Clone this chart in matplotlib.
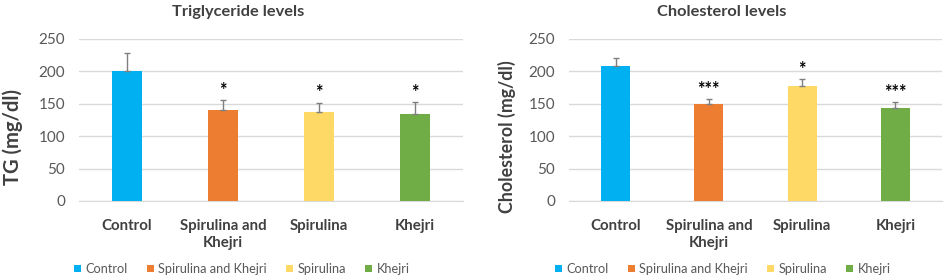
import matplotlib
matplotlib.use("Agg")
import matplotlib.pyplot as plt
from matplotlib.patches import Patch

plt.rcParams['font.family'] = ['Lato', 'DejaVu Sans']

categories = ["Control", "Spirulina and\nKhejri", "Spirulina", "Khejri"]
legend_labels = ["Control", "Spirulina and Khejri", "Spirulina", "Khejri"]
colors = ["#00B0F0", "#ED7D31", "#FFD966", "#70AD47"]

tg_mean = [200, 141, 137, 135]
tg_err = [28, 15, 15, 18]
tg_stars = ["", "*", "*", "*"]

chol_mean = [208, 150, 178, 143]
chol_err = [12, 7, 10, 10]
chol_stars = ["", "***", "*", "***"]

yticks = [0, 50, 100, 150, 200, 250]

W, H = 945, 279
fig = plt.figure(figsize=(W / 100, H / 100), dpi=100)

def make(ax_rect, means, errs, stars, title, ylabel, ylabel_size, ylabel_x,
         title_x, legend_x):
    ax = fig.add_axes(ax_rect)
    x = list(range(len(categories)))
    ax.bar(x, means, width=0.31, color=colors, zorder=3)
    ax.errorbar(x, means, yerr=[[0] * len(errs), errs], fmt='none',
                ecolor='#7F7F7F', elinewidth=1.0, capsize=2.5, capthick=1.0, zorder=4)
    for xi, m, e, s in zip(x, means, errs, stars):
        if s:
            ax.text(xi, m + e + 2, s, ha='center', va='bottom', fontsize=13,
                    fontweight='bold', color='#000000')
    ax.set_xlim(-0.5, len(categories) - 0.5)
    ax.set_ylim(0, 250)
    ax.set_yticks(yticks)
    ax.set_xticks(x)
    ax.set_xticklabels(categories, fontsize=10.8, fontweight='bold', color='#404040',
                       linespacing=1.3)
    ax.tick_params(axis='x', length=0, pad=13)
    ax.tick_params(axis='y', length=0, pad=10, labelsize=11, labelcolor='#595959')
    ax.grid(axis='y', color='#D9D9D9', linewidth=1.0, zorder=0)
    for sp in ['top', 'right', 'left']:
        ax.spines[sp].set_visible(False)
    ax.spines['bottom'].set_color('#D9D9D9')
    ax.set_ylabel(ylabel, fontsize=ylabel_size, fontweight='bold', color='#404040')
    ax.yaxis.set_label_coords(ylabel_x / W, 1 - 137 / H, transform=fig.transFigure)
    fig.text(title_x, 1 - 12 / H, title, ha='center', va='center', fontsize=11.8,
             fontweight='bold', color='#404040')
    handles = [Patch(facecolor=c, edgecolor='none') for c in colors]
    fig.legend(handles, legend_labels, loc='center', bbox_to_anchor=(legend_x, 1 - 269 / H),
               ncol=4, frameon=False, fontsize=9.2, handlelength=0.55, handleheight=0.55,
               handletextpad=0.35, columnspacing=1.5, labelcolor='#595959')
    return ax

make([79 / W, 1 - 201 / H, 384 / W, 162 / H], tg_mean, tg_err, tg_stars,
     "Triglyceride levels", "TG (mg/dl)", 14.5, 23, 238 / W, 242 / W)
make([569 / W, 1 - 201 / H, 373 / W, 162 / H], chol_mean, chol_err, chol_stars,
     "Cholesterol levels", "Cholesterol (mg/dl)", 12.8, 516, 722 / W, 723 / W)

fig.savefig("out.png", dpi=100)
